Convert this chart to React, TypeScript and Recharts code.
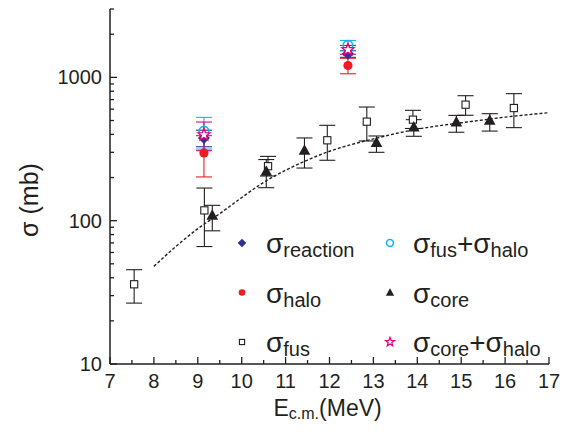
import React from 'react'
import { ComposedChart, Scatter, Line, XAxis, YAxis, ErrorBar } from 'recharts'

// sigma_fus (open squares)
const fusX = [7.55, 9.15, 10.6, 11.95, 12.85, 13.9, 15.1, 16.2]
const fusY = [36, 118, 240, 364, 491, 507, 645, 611]
const fusLo = [26.6, 66, 205, 264, 360, 440, 544, 446]
const fusHi = [45.5, 169, 281, 463, 621, 589, 745, 770]

// sigma_core (filled triangles)
const coreX = [9.33, 10.56, 11.43, 13.07, 13.92, 14.89, 15.65]
const coreY = [109, 221, 310, 351, 450, 488, 502]
const coreLo = [85, 170, 233, 300, 388, 414, 422]
const coreHi = [128, 267, 378, 390, 507, 543, 558]

// the two energies with halo data
const haloX = [9.14, 12.42]
const reactionY = [378, 1460]
const reactionErr = [50, 80]
const haloY = [297, 1210]
const haloErr = [95, 150]
const fusHaloY = [421, 1670]
const fusHaloErr = [105, 140]
const coreHaloY = [398, 1560]
const coreHaloErr = [90, 110]

// dashed systematics curve
const curveX = [8, 8.5, 9, 9.5, 10, 10.5, 11, 11.5, 12, 12.5, 13, 13.5, 14, 14.5, 15, 15.5, 16, 16.5, 17]
const curveY = [48, 66, 88, 112, 145, 185, 225, 265, 305, 340, 372, 405, 435, 460, 482, 505, 528, 548, 567]

const xTicks = [7, 7.5, 8, 8.5, 9, 9.5, 10, 10.5, 11, 11.5, 12, 12.5, 13, 13.5, 14, 14.5, 15, 15.5, 16, 16.5, 17]
const yTicks = [10, 20, 30, 40, 50, 60, 70, 80, 90, 100, 200, 300, 400, 500, 600, 700, 800, 900, 1000, 2000, 3000]

const asym = (xs: number[], ys: number[], lo: number[], hi: number[]) =>
  xs.map((x, i) => ({ x, y: ys[i], err: [ys[i] - lo[i], hi[i] - ys[i]] }))
const sym = (xs: number[], ys: number[], e: number[]) =>
  xs.map((x, i) => ({ x, y: ys[i], err: e[i] }))

const fusData = asym(fusX, fusY, fusLo, fusHi)
const coreData = asym(coreX, coreY, coreLo, coreHi)
const reactionData = sym(haloX, reactionY, reactionErr)
const haloData = sym(haloX, haloY, haloErr)
const fusHaloData = sym(haloX, fusHaloY, fusHaloErr)
const coreHaloData = sym(haloX, coreHaloY, coreHaloErr)
const curveData = curveX.map((x, i) => ({ x, y: curveY[i] }))

const INK = '#231f20'
const BLUE = '#2e3192'
const RED = '#ed1c24'
const CYAN = '#1cb0e6'
const PINK = '#e6007e'
const FONT = '"Liberation Sans", Arial, sans-serif'

// marker shapes, s = scale
const diamond = (cx: number, cy: number, s = 1) => (
  <path d={`M${cx},${cy - 6 * s}L${cx + 6 * s},${cy}L${cx},${cy + 6 * s}L${cx - 6 * s},${cy}Z`} fill={BLUE} />
)
const dot = (cx: number, cy: number, s = 1) => <circle cx={cx} cy={cy} r={4.6 * s} fill={RED} />
const square = (cx: number, cy: number, s = 1) => (
  <rect x={cx - 3.6 * s} y={cy - 3.6 * s} width={7.2 * s} height={7.2 * s} fill="#fff" stroke={INK} strokeWidth={1.1} />
)
const ring = (cx: number, cy: number, s = 1) => (
  <circle cx={cx} cy={cy} r={4.8 * s} fill="none" stroke={CYAN} strokeWidth={1.6} />
)
const triangle = (cx: number, cy: number, s = 1) => (
  <path d={`M${cx},${cy - 6 * s}L${cx + 5.8 * s},${cy + 4.5 * s}L${cx - 5.8 * s},${cy + 4.5 * s}Z`} fill={INK} />
)
const star = (cx: number, cy: number, s = 1) => {
  const pts: string[] = []
  for (let i = 0; i < 10; i++) {
    const r = (i % 2 === 0 ? 6.4 : 2.7) * s
    const a = -Math.PI / 2 + (i * Math.PI) / 5
    pts.push(`${cx + r * Math.cos(a)},${cy + r * Math.sin(a)}`)
  }
  return <polygon points={pts.join(' ')} fill="#fff" stroke={PINK} strokeWidth={1.3} />
}

const shapeOf = (fn: (cx: number, cy: number, s?: number) => React.ReactElement) => (p: any) => fn(p.cx, p.cy)

const XTickBottom = ({ x, y, payload }: any) => {
  const major = Number.isInteger(payload.value)
  return (
    <g>
      <line x1={x} x2={x} y1={y} y2={y - (major ? 7 : 4)} stroke={INK} strokeWidth={1.3} />
      {major && (
        <text x={x} y={y + 24} textAnchor="middle" fontSize={20} fill={INK} fontFamily={FONT}>
          {payload.value}
        </text>
      )}
    </g>
  )
}

const XTickTop = ({ x, y, payload }: any) => {
  const major = Number.isInteger(payload.value)
  return <line x1={x} x2={x} y1={y} y2={y + (major ? 7 : 4)} stroke={INK} strokeWidth={1.3} />
}

const isDecade = (v: number) => Math.abs(Math.log10(v) - Math.round(Math.log10(v))) < 1e-9

const YTickLeft = ({ x, y, payload }: any) => {
  const major = isDecade(payload.value)
  return (
    <g>
      <line x1={x} x2={x + (major ? 7 : 4)} y1={y} y2={y} stroke={INK} strokeWidth={1.3} />
      {major && (
        <text x={x - 8} y={y + 7} textAnchor="end" fontSize={20} fill={INK} fontFamily={FONT}>
          {payload.value}
        </text>
      )}
    </g>
  )
}

const YTickRight = ({ x, y, payload }: any) => {
  const major = isDecade(payload.value)
  return <line x1={x} x2={x - (major ? 7 : 4)} y1={y} y2={y} stroke={INK} strokeWidth={1.3} />
}

const legendItems = [
  { col: 0, row: 0, draw: diamond, parts: [['σ', 'reaction']] },
  { col: 0, row: 1, draw: dot, parts: [['σ', 'halo']] },
  { col: 0, row: 2, draw: square, parts: [['σ', 'fus']] },
  { col: 1, row: 0, draw: ring, parts: [['σ', 'fus'], ['+σ', 'halo']] },
  { col: 1, row: 1, draw: triangle, parts: [['σ', 'core']] },
  { col: 1, row: 2, draw: star, parts: [['σ', 'core'], ['+σ', 'halo']] },
]

const LegendBlock = () => (
  <g fontFamily={FONT} fill={INK}>
    {legendItems.map((it, i) => {
      const sx = it.col === 0 ? 242 : 390
      const tx = it.col === 0 ? 266 : 413
      const cy = 243 + it.row * 49.5
      return (
        <g key={i}>
          {it.draw(sx, cy, 0.72)}
          <text x={tx} y={cy + 10} fontSize={28}>
            {it.parts.map(([main, sub], j) => (
              <React.Fragment key={j}>
                <tspan dy={j === 0 ? 0 : -4}>{main}</tspan>
                <tspan fontSize={20} dy={4}>{sub}</tspan>
              </React.Fragment>
            ))}
          </text>
        </g>
      )
    })}
  </g>
)

const XLabel = ({ viewBox }: any) => (
  <text x={viewBox.x + viewBox.width / 2 - 56} y={416} fontSize={23} fill={INK} fontFamily={FONT}>
    E<tspan fontSize={16} dy={3}>c.m.</tspan>
    <tspan dy={-3}>(MeV)</tspan>
  </text>
)

const YLabel = () => (
  <text x={38} y={200} transform="rotate(-90, 38, 200)" textAnchor="middle" fontSize={25} fill={INK} fontFamily={FONT}>
    σ (mb)
  </text>
)

export default function App() {
  return (
    <div style={{ position: 'absolute', left: 0, top: 0, background: '#fff' }}>
      <ComposedChart width={567} height={434} margin={{ top: 9, right: 18, bottom: 0, left: 0 }} style={{ fontFamily: FONT }}>
        <XAxis
          dataKey="x"
          type="number"
          domain={[7, 17]}
          ticks={xTicks}
          interval={0}
          allowDataOverflow
          height={70}
          tickSize={0}
          tickMargin={0}
          tickLine={false}
          tick={<XTickBottom />}
          axisLine={{ stroke: INK, strokeWidth: 1.5 }}
          label={<XLabel />}
        />
        <XAxis
          xAxisId="top"
          orientation="top"
          dataKey="x"
          type="number"
          domain={[7, 17]}
          ticks={xTicks}
          interval={0}
          allowDataOverflow
          height={0}
          tickSize={0}
          tickMargin={0}
          tickLine={false}
          tick={<XTickTop />}
          axisLine={{ stroke: INK, strokeWidth: 1.5 }}
        />
        <YAxis
          type="number"
          scale="log"
          domain={[10, 3000]}
          ticks={yTicks}
          interval={0}
          allowDataOverflow
          width={110}
          tickSize={0}
          tickMargin={0}
          tickLine={false}
          tick={<YTickLeft />}
          axisLine={{ stroke: INK, strokeWidth: 1.5 }}
          label={<YLabel />}
        />
        <YAxis
          yAxisId="right"
          orientation="right"
          type="number"
          scale="log"
          domain={[10, 3000]}
          ticks={yTicks}
          interval={0}
          allowDataOverflow
          width={0}
          tickSize={0}
          tickMargin={0}
          tickLine={false}
          tick={<YTickRight />}
          axisLine={{ stroke: INK, strokeWidth: 1.5 }}
        />
        <Line
          data={curveData}
          dataKey="y"
          type="monotone"
          stroke={INK}
          strokeWidth={1.4}
          strokeDasharray="3 2"
          dot={false}
          activeDot={false}
          isAnimationActive={false}
        />
        <Scatter data={fusData} dataKey="y" shape={shapeOf(square)} isAnimationActive={false}>
          <ErrorBar dataKey="err" direction="y" width={8} stroke={INK} strokeWidth={1.1} />
        </Scatter>
        <Scatter data={coreData} dataKey="y" shape={shapeOf(triangle)} isAnimationActive={false}>
          <ErrorBar dataKey="err" direction="y" width={8} stroke={INK} strokeWidth={1.1} />
        </Scatter>
        <Scatter data={haloData} dataKey="y" shape={shapeOf(dot)} isAnimationActive={false}>
          <ErrorBar dataKey="err" direction="y" width={8} stroke={RED} strokeWidth={1.1} />
        </Scatter>
        <Scatter data={reactionData} dataKey="y" shape={shapeOf(diamond)} isAnimationActive={false}>
          <ErrorBar dataKey="err" direction="y" width={8} stroke={BLUE} strokeWidth={1.1} />
        </Scatter>
        <Scatter data={fusHaloData} dataKey="y" shape={shapeOf(ring)} isAnimationActive={false}>
          <ErrorBar dataKey="err" direction="y" width={8} stroke={CYAN} strokeWidth={1.1} />
        </Scatter>
        <Scatter data={coreHaloData} dataKey="y" shape={shapeOf(star)} isAnimationActive={false}>
          <ErrorBar dataKey="err" direction="y" width={8} stroke={PINK} strokeWidth={1.1} />
        </Scatter>
        <LegendBlock />
      </ComposedChart>
    </div>
  )
}
